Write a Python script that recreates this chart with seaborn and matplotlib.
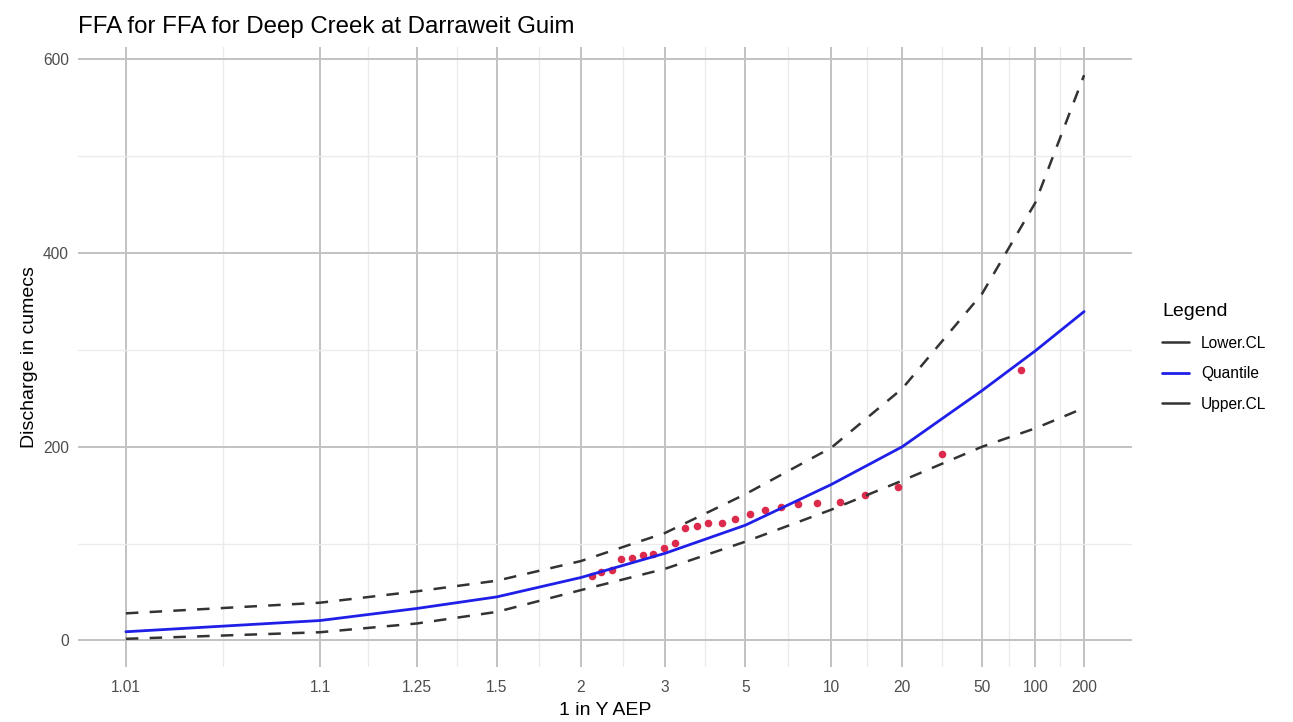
import numpy as np
import pandas as pd
import seaborn as sns
import matplotlib
matplotlib.use("Agg")
import matplotlib.pyplot as plt
from matplotlib.lines import Line2D
from statistics import NormalDist

# FFA results (1 in Y AEP -> discharge in cumecs)
aep_years = [1.01, 1.1, 1.25, 1.5, 2, 3, 5, 10, 20, 50, 100, 200]
aep_labels = ["1.01", "1.1", "1.25", "1.5", "2", "3", "5", "10", "20", "50", "100", "200"]
quantile = [9, 20.6, 33, 45, 65, 90, 119, 161, 200, 258, 299, 339.5]
upper_cl = [28, 39, 50.7, 61.7, 82, 111, 151, 199, 260, 358, 452, 583.5]
lower_cl = [1.7, 8.5, 17.5, 29.5, 52, 74, 102, 135, 165, 200, 219, 240]

# observed annual maxima (plotting positions)
obs_years = [2.09, 2.18, 2.29, 2.39, 2.52, 2.66, 2.81, 2.98, 3.17, 3.37, 3.62, 3.89,
             4.24, 4.66, 5.17, 5.78, 6.54, 7.51, 8.79, 10.8, 13.7, 19.1, 31.0, 82.9]
obs_flow = [66.9, 70.3, 72.8, 83.7, 85.1, 87.8, 89.5, 95.0, 100.5, 115.6, 118.3, 121.1,
            121.1, 125.2, 130.7, 134.8, 137.9, 140.7, 141.7, 143.0, 150.3, 158.5, 192.8, 279.6]

nd = NormalDist()
_ppf = np.vectorize(nd.inv_cdf, otypes=[float])
_cdf = np.vectorize(nd.cdf, otypes=[float])


def to_z(y):
    y = np.clip(np.asarray(y, float), 1.0000001, None)
    p = np.clip(1 - 1 / y, 1e-9, 1 - 1e-9)
    return _ppf(p)


def from_z(z):
    z = np.asarray(z, float)
    return 1 / np.clip(1 - _cdf(z), 1e-12, None)


curves = pd.DataFrame({"Y": aep_years, "Quantile": quantile,
                       "Lower.CL": lower_cl, "Upper.CL": upper_cl})
points = pd.DataFrame({"Y": obs_years, "Q": obs_flow})

sns.set_style("white")
plt.rcParams["font.family"] = ["Liberation Sans", "DejaVu Sans"]
plt.rcParams["text.color"] = "black"
plt.rcParams["axes.labelcolor"] = "black"

fig = plt.figure(figsize=(12.93, 7.22), dpi=100)
ax = fig.add_axes([78 / 1293, 1 - 667 / 722, (1132 - 78) / 1293, (667 - 47) / 722])
ax.set_xscale("function", functions=(to_z, from_z))

dark = "#333333"
blue = "#1f1fe8"
sns.scatterplot(data=points, x="Y", y="Q", color="#dc2a4c", s=30, linewidth=0, ax=ax, zorder=3)
sns.lineplot(data=curves, x="Y", y="Lower.CL", color=dark, lw=1.8, dashes=(5, 4.5),
             estimator=None, errorbar=None, ax=ax, zorder=4)
sns.lineplot(data=curves, x="Y", y="Upper.CL", color=dark, lw=1.8, dashes=(5, 4.5),
             estimator=None, errorbar=None, ax=ax, zorder=4)
sns.lineplot(data=curves, x="Y", y="Quantile", color=blue, lw=2.0,
             estimator=None, errorbar=None, ax=ax, zorder=5)

# limits with ggplot-like 5% expansion in transformed space
z_lo, z_hi = float(to_z(aep_years[0])), float(to_z(aep_years[-1]))
zs = z_hi - z_lo
ax.set_xlim(float(from_z(z_lo - 0.05 * zs)), float(from_z(z_hi + 0.05 * zs)))
y_lo, y_hi = min(lower_cl), max(upper_cl)
ys = y_hi - y_lo
ax.set_ylim(y_lo - 0.05 * ys, y_hi + 0.05 * ys)

zt = to_z(aep_years)
minor_x = from_z((zt[:-1] + zt[1:]) / 2)
ax.set_xticks(aep_years)
ax.set_xticklabels(aep_labels)
ax.set_xticks(minor_x, minor=True)
ax.set_yticks([0, 200, 400, 600])
ax.set_yticks([100, 300, 500], minor=True)

ax.grid(which="major", color="#c2c2c2", lw=1.4)
ax.grid(which="minor", color="#ebebeb", lw=1.0)
ax.set_axisbelow(True)
for s in ax.spines.values():
    s.set_visible(False)
ax.tick_params(which="both", length=0, labelsize=11.2, labelcolor="#4d4d4d")
ax.tick_params(axis="x", pad=9.4)
ax.tick_params(axis="y", pad=6.5)

ax.set_xlabel("1 in Y AEP", fontsize=14, labelpad=5, color="black")
ax.set_ylabel("Discharge in cumecs", fontsize=14, labelpad=4, color="black")
ax.set_title("FFA for FFA for Deep Creek at Darraweit Guim", loc="left",
             fontsize=17.3, pad=10, color="black")

handles = [Line2D([], [], color=dark, lw=1.8),
           Line2D([], [], color=blue, lw=2.0),
           Line2D([], [], color=dark, lw=1.8)]
leg = fig.legend(handles, ["Lower.CL", "Quantile", "Upper.CL"], title="Legend",
                 loc="upper left", bbox_to_anchor=(1162 / 1293, 1 - 303 / 722),
                 frameon=False, fontsize=11.2, title_fontsize=14, borderpad=0,
                 borderaxespad=0, handlelength=1.75, handletextpad=0.75,
                 labelspacing=1.0, alignment="left")
for t in leg.get_texts():
    t.set_color("black")
leg.get_title().set_color("black")

fig.savefig("out.png", dpi=100)
